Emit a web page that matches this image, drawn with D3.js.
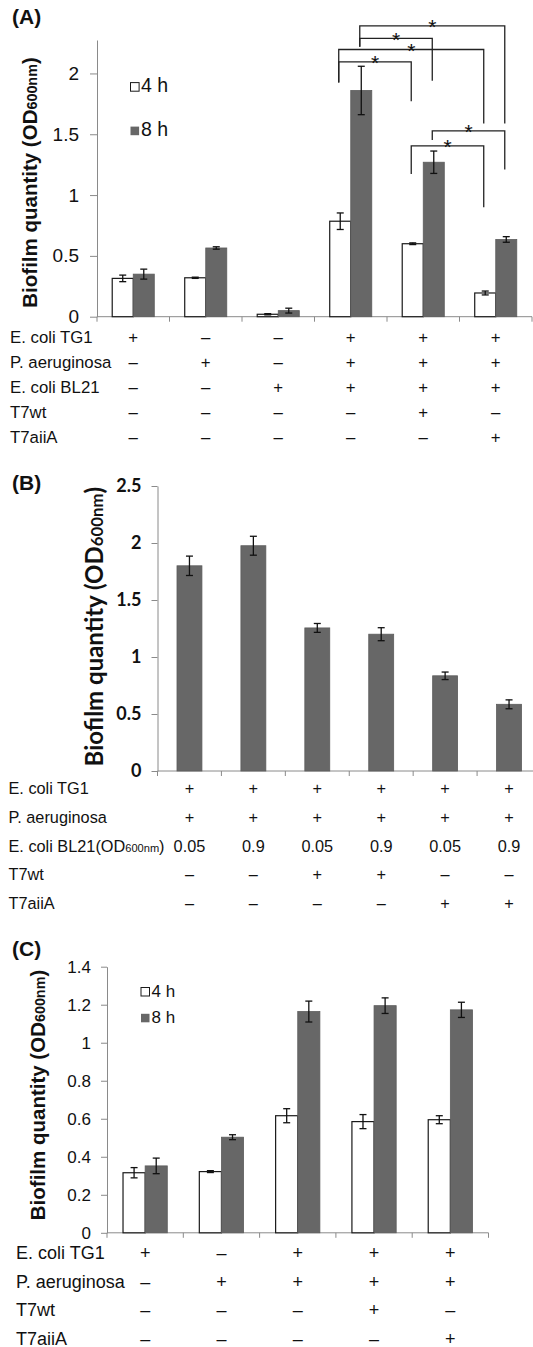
<!DOCTYPE html>
<html>
<head>
<meta charset="utf-8">
<script src="https://cdnjs.cloudflare.com/ajax/libs/d3/7.8.5/d3.min.js"></script>
<style>
  body { margin: 0; background: #fff; }
  svg text { font-family: "Liberation Sans", Arial, sans-serif; fill: #111; }
</style>
</head>
<body>
<svg id="fig" width="533" height="1347"></svg>
<script>
// series
const seriesNames = ["4 h", "8 h"];
const yTitle = "Biofilm quantity (OD600nm)";

// panel A
const rowsA = ["E. coli TG1", "P. aeruginosa", "E. coli BL21", "T7wt", "T7aiiA"];
const signsA = [
  ["+", "–", "–", "+", "+", "+"],
  ["–", "+", "–", "+", "+", "+"],
  ["–", "–", "+", "+", "+", "+"],
  ["–", "–", "–", "–", "+", "–"],
  ["–", "–", "–", "–", "–", "+"]
];
const meanA4h = [0.315, 0.32, 0.02, 0.785, 0.60, 0.195];
const errA4h  = [0.027, 0.005, 0.005, 0.068, 0.007, 0.016];
const meanA8h = [0.35, 0.565, 0.05, 1.86, 1.27, 0.635];
const errA8h  = [0.041, 0.01, 0.02, 0.199, 0.092, 0.023];
const ticksA = [0, 0.5, 1, 1.5, 2];
// significance brackets: [group, series] of both ends, heights in OD units
const bracketsA = [
  { a: [3, 0], b: [4, 0], top: 2.095, endA: 1.926, endB: 1.772 },
  { a: [3, 1], b: [4, 1], top: 2.288, endA: 2.219, endB: 1.939 },
  { a: [3, 0], b: [5, 0], top: 2.197, endA: 1.926, endB: 1.589 },
  { a: [3, 1], b: [5, 1], top: 2.391, endA: 2.219, endB: 1.589 },
  { a: [4, 0], b: [5, 0], top: 1.405, endA: 1.173, endB: 0.899 },
  { a: [4, 1], b: [5, 1], top: 1.528, endA: 1.452, endB: 1.211 }
];

// panel B
const rowsB = ["E. coli TG1", "P. aeruginosa", "E. coli BL21(OD600nm)", "T7wt", "T7aiiA"];
const signsB = [
  ["+", "+", "+", "+", "+", "+"],
  ["+", "+", "+", "+", "+", "+"],
  ["0.05", "0.9", "0.05", "0.9", "0.05", "0.9"],
  ["–", "–", "+", "+", "–", "–"],
  ["–", "–", "–", "–", "+", "+"]
];
const meanB = [1.80, 1.976, 1.255, 1.20, 0.835, 0.585];
const errB  = [0.085, 0.083, 0.039, 0.057, 0.033, 0.039];
const ticksB = [0, 0.5, 1, 1.5, 2, 2.5];

// panel C
const rowsC = ["E. coli TG1", "P. aeruginosa", "T7wt", "T7aiiA"];
const signsC = [
  ["+", "–", "+", "+", "+"],
  ["–", "+", "+", "+", "+"],
  ["–", "–", "–", "+", "–"],
  ["–", "–", "–", "–", "+"]
];
const meanC4h = [0.316, 0.322, 0.616, 0.585, 0.595];
const errC4h  = [0.027, 0.005, 0.037, 0.037, 0.021];
const meanC8h = [0.352, 0.503, 1.164, 1.195, 1.173];
const errC8h  = [0.041, 0.013, 0.055, 0.041, 0.04];
const ticksC = [0, 0.2, 0.4, 0.6, 0.8, 1, 1.2, 1.4];

const svg = d3.select("#fig");
const axisColor = "#8a8a8a";
const barGray = "#676767";

// text with the smaller "600nm" part
function richText(sel, str, big, small) {
  str.split(/(600nm)/).forEach(p => {
    if (!p) return;
    sel.append("tspan").attr("font-size", p === "600nm" ? small : big).text(p);
  });
  return sel;
}

function drawYAxis(g, y, x0, ticks, o) {
  const ax = g.append("g")
    .attr("transform", `translate(${x0},0)`)
    .call(d3.axisLeft(y).tickValues(ticks).tickSize(o.tickSize).tickSizeOuter(0)
      .tickPadding(o.pad).tickFormat(d3.format("~g")));
  ax.select(".domain").attr("stroke", axisColor);
  ax.selectAll(".tick line").attr("stroke", axisColor);
  ax.selectAll(".tick text")
    .style("font-family", o.font)
    .attr("font-size", o.size)
    .attr("font-weight", o.weight || "normal")
    .attr("fill", "#111");
}

function drawXAxis(g, x, y0) {
  const [a, b] = x.range();
  g.append("line").attr("x1", a).attr("x2", b).attr("y1", y0).attr("y2", y0)
    .attr("stroke", axisColor);
  const bounds = x.domain().map(d => x(d)).concat([b]);
  g.selectAll(null).data(bounds).join("line")
    .attr("x1", d => d).attr("x2", d => d)
    .attr("y1", y0).attr("y2", y0 + 5)
    .attr("stroke", axisColor);
}

function drawBars(g, data, xPos, width, y) {
  g.selectAll(null).data(data).join("rect")
    .attr("x", d => xPos(d))
    .attr("y", d => y(d.v))
    .attr("width", width)
    .attr("height", d => y(0) - y(d.v))
    .attr("fill", d => d.s === "4 h" ? "#fff" : barGray)
    .attr("stroke", d => d.s === "4 h" ? "#1a1a1a" : "#5c5c5c")
    .attr("stroke-width", d => d.s === "4 h" ? 1.2 : 0.8);
  const cap = 3.5;
  const eb = g.selectAll(null).data(data).join("g")
    .attr("transform", d => `translate(${xPos(d) + width / 2},0)`);
  eb.append("line").attr("y1", d => y(d.v - d.e)).attr("y2", d => y(d.v + d.e));
  eb.append("line").attr("x1", -cap).attr("x2", cap).attr("y1", d => y(d.v + d.e)).attr("y2", d => y(d.v + d.e));
  eb.append("line").attr("x1", -cap).attr("x2", cap).attr("y1", d => y(d.v - d.e)).attr("y2", d => y(d.v - d.e));
  eb.selectAll("line").attr("stroke", "#111").attr("stroke-width", 1.3);
}

function drawTable(g, x, rows, signs, o) {
  rows.forEach((r, i) => {
    const yy = o.y0 + i * o.dy;
    richText(g.append("text").attr("x", o.labelX).attr("y", yy), r, o.size, o.size * 0.68);
    g.selectAll(null).data(signs[i]).join("text")
      .attr("x", (d, j) => x(x.domain()[j]) + x.bandwidth() / 2)
      .attr("y", yy)
      .attr("text-anchor", "middle")
      .attr("font-size", o.size)
      .text(d => d);
  });
}

function drawTitle(g, tx, ty, o) {
  richText(g.append("text")
    .attr("transform", `translate(${tx},${ty}) rotate(-90)`)
    .attr("text-anchor", "middle")
    .attr("font-weight", "bold")
    .style("font-family", o.font), yTitle, o.size, o.size * 0.7);
}

function drawLegend(g, x0, y0, dy, size, sq) {
  seriesNames.forEach((s, i) => {
    const yy = y0 + i * dy;
    g.append("rect").attr("x", x0).attr("y", yy - sq - 0.5).attr("width", sq).attr("height", sq)
      .attr("fill", i === 0 ? "#fff" : barGray)
      .attr("stroke", i === 0 ? "#1a1a1a" : "none").attr("stroke-width", 1);
    g.append("text").attr("x", x0 + sq + 2).attr("y", yy).attr("font-size", size).text(s);
  });
}

function panelLabel(txt, x, y) {
  svg.append("text").attr("x", x).attr("y", y).attr("font-size", 21)
    .attr("font-weight", "bold").text(txt);
}

function toRows(m4, e4, m8, e8) {
  return m4.map((v, i) => ({ g: i, s: "4 h", v, e: e4[i] }))
    .concat(m8.map((v, i) => ({ g: i, s: "8 h", v, e: e8[i] })));
}

/* ---------- (A) ---------- */
{
  const g = svg.append("g");
  const x = d3.scaleBand().domain(meanA4h.map((d, i) => i)).range([97, 532]);
  const sub = d3.scaleBand().domain(seriesNames).range([0, x.bandwidth()]).paddingOuter(0.724);
  const y = d3.scaleLinear().domain([0, 2.275]).range([316.7, 40]);
  drawYAxis(g, y, 97, ticksA, { tickSize: 7, pad: 11, size: 19, font: "Liberation Sans" });
  drawXAxis(g, x, y(0));
  const data = toRows(meanA4h, errA4h, meanA8h, errA8h);
  drawBars(g, data, d => x(d.g) + sub(d.s), sub.bandwidth(), y);
  drawLegend(g, 130.5, 91.7, 44, 19.5, 8.6);
  drawTitle(g, 36.7, 182.5, { size: 20.5, font: "Liberation Sans" });
  drawTable(g, x, rowsA, signsA, { labelX: 10, y0: 343.2, dy: 24.85, size: 16.8 });
  const cx = (p) => x(p[0]) + sub(seriesNames[p[1]]) + sub.bandwidth() / 2 - 1.5;
  g.selectAll(null).data(bracketsA).join("path")
    .attr("d", d => `M${cx(d.a)},${y(d.endA)}V${y(d.top)}H${cx(d.b)}V${y(d.endB)}`)
    .attr("fill", "none").attr("stroke", "#222").attr("stroke-width", 1.3);
  g.selectAll(null).data(bracketsA).join("text")
    .attr("x", d => (cx(d.a) + cx(d.b)) / 2)
    .attr("y", d => y(d.top) + 8.5)
    .attr("text-anchor", "middle").attr("font-size", 21).attr("fill", "#333")
    .text("*");
  panelLabel("(A)", 12, 24);
}

/* ---------- (B) ---------- */
{
  const g = svg.append("g");
  const x = d3.scaleBand().domain(meanB.map((d, i) => i)).range([157.5, 541]);
  const xb = d3.scaleBand().domain(x.domain()).range(x.range()).paddingInner(0.61).paddingOuter(0.305);
  const y = d3.scaleLinear().domain([0, 2.5]).range([771, 486]);
  drawYAxis(g, y, 157.5, ticksB, { tickSize: 6, pad: 10, size: 18, font: "Lato", weight: "bold" });
  drawXAxis(g, x, y(0));
  const data = meanB.map((v, i) => ({ g: i, s: "8 h", v, e: errB[i] }));
  drawBars(g, data, d => xb(d.g), xb.bandwidth(), y);
  drawTitle(g, 103.3, 626.7, { size: 24, font: "Lato" });
  drawTable(g, x, rowsB, signsB, { labelX: 8.5, y0: 794, dy: 28.8, size: 16.3 });
  panelLabel("(B)", 12, 489.5);
}

/* ---------- (C) ---------- */
{
  const g = svg.append("g");
  const x = d3.scaleBand().domain(meanC4h.map((d, i) => i)).range([107, 488.5]);
  const sub = d3.scaleBand().domain(seriesNames).range([0, x.bandwidth()]).paddingOuter(0.724);
  const y = d3.scaleLinear().domain([0, 1.4]).range([1232.8, 966.7]);
  drawYAxis(g, y, 107, ticksC, { tickSize: 6, pad: 10, size: 17, font: "Liberation Sans" });
  drawXAxis(g, x, y(0));
  const data = toRows(meanC4h, errC4h, meanC8h, errC8h);
  drawBars(g, data, d => x(d.g) + sub(d.s), sub.bandwidth(), y);
  drawLegend(g, 141, 996.5, 26.3, 17, 8.5);
  drawTitle(g, 44.5, 1095, { size: 20.5, font: "Liberation Sans" });
  drawTable(g, x, rowsC, signsC, { labelX: 16, y0: 1259, dy: 28.5, size: 18 });
  panelLabel("(C)", 12, 956);
}
</script>
</body>
</html>
